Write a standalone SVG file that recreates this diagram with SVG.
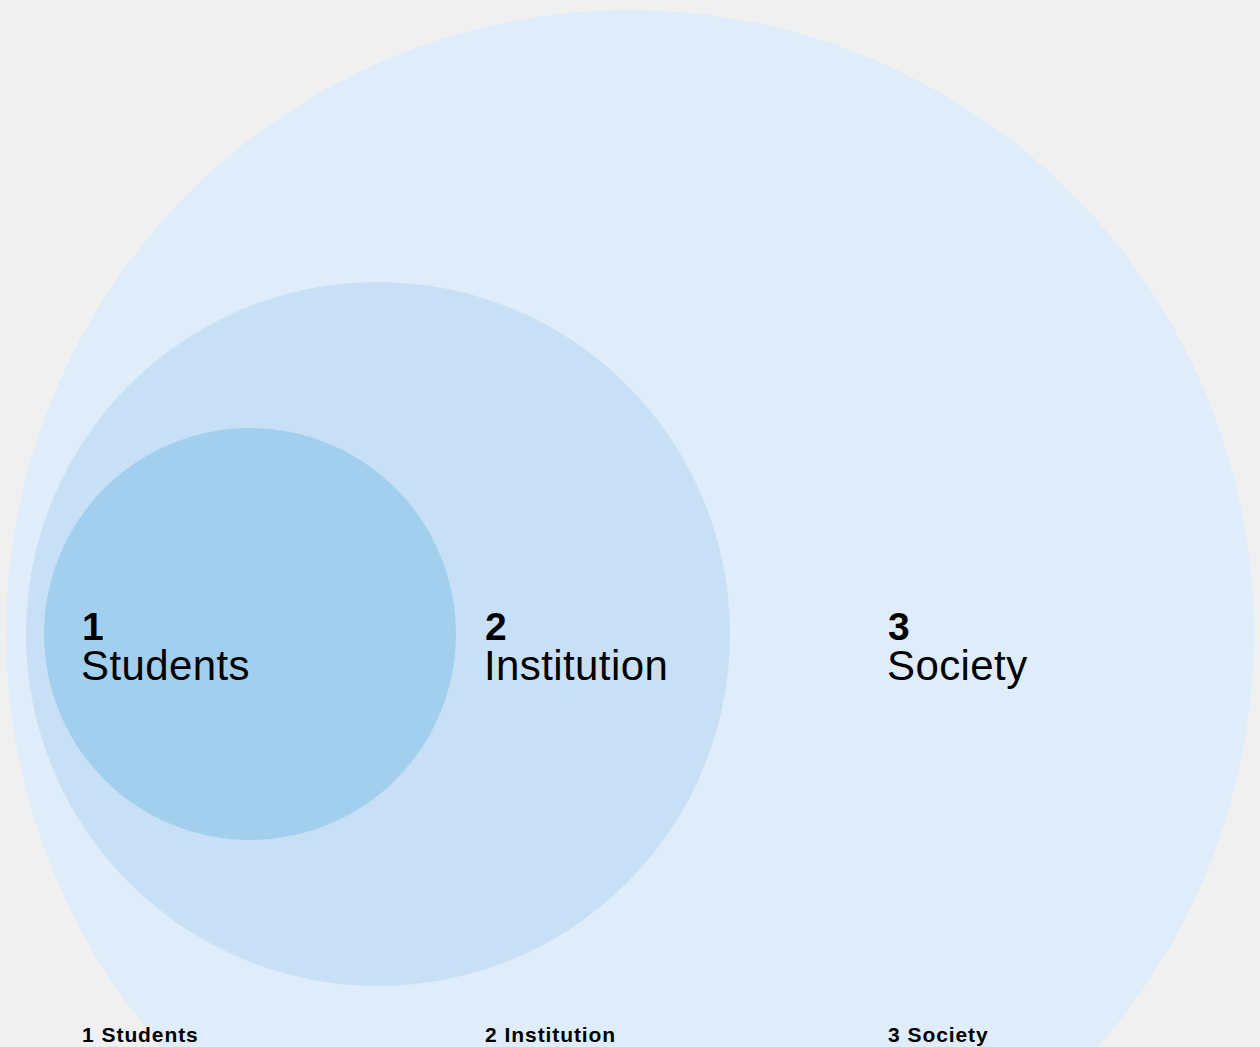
<svg xmlns="http://www.w3.org/2000/svg" width="1260" height="1047" viewBox="0 0 1260 1047">
  <style>
    .num { font-family: "Liberation Sans", Arial, sans-serif; font-weight: 700; font-size: 39px; fill: #000; }
    .name { font-family: "Liberation Sans", Arial, sans-serif; font-weight: 400; font-size: 42px; letter-spacing: 0.4px; fill: #000; }
    .cap { font-family: "Liberation Sans", Arial, sans-serif; font-weight: 700; font-size: 21px; letter-spacing: 0.9px; fill: #000; }
  </style>
  <rect width="1260" height="1047" fill="#f0f0f0"/>
  <!-- nested circles, largest drawn first -->
  <g id="society">
    <circle cx="630" cy="634" r="624" fill="#dfecf9"/>
  </g>
  <g id="institution">
    <circle cx="378" cy="634" r="352" fill="#c8e0f5"/>
  </g>
  <g id="students">
    <circle cx="250" cy="634" r="206" fill="#a3cfef"/>
  </g>
  <g id="connectors"/>
  <g id="labels">
    <text class="num" x="82" y="640">1</text>
    <text class="name" x="81" y="680">Students</text>
    <text class="num" x="485" y="640">2</text>
    <text class="name" x="484" y="680">Institution</text>
    <text class="num" x="888" y="640">3</text>
    <text class="name" x="887" y="680">Society</text>
  </g>
  <g id="captions">
    <text class="cap" x="82" y="1042">1<tspan dx="7">Students</tspan></text>
    <text class="cap" x="485" y="1042">2<tspan dx="7">Institution</tspan></text>
    <text class="cap" x="888" y="1042">3<tspan dx="7">Society</tspan></text>
  </g>
</svg>
